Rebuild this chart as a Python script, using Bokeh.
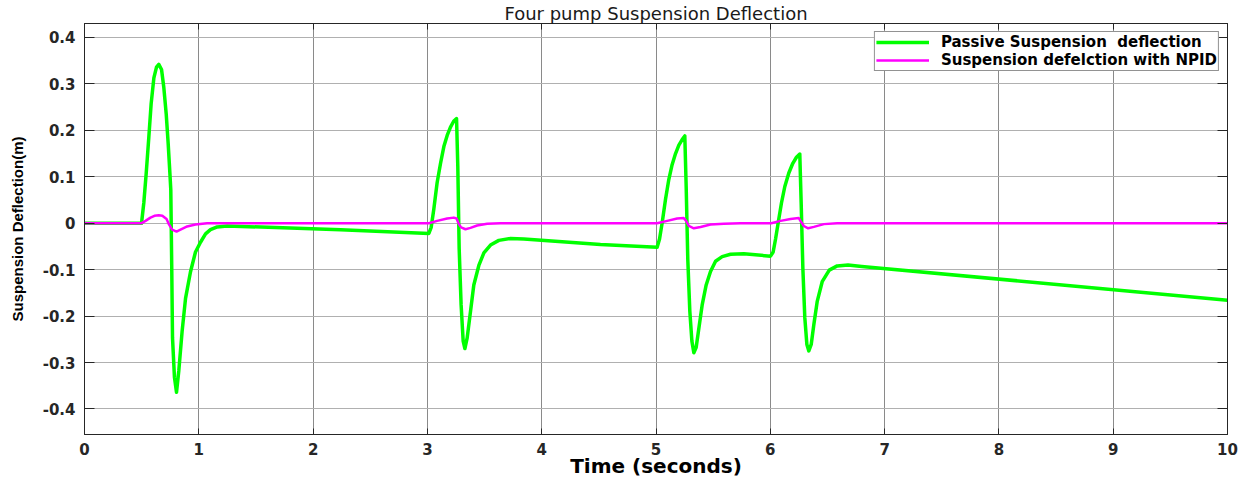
from bokeh.plotting import figure
from bokeh.models import Range1d, LinearAxis, FixedTicker, Legend, LegendItem
from bokeh.embed import file_html
from bokeh.resources import INLINE

# ---- data ----
passive_t = [0.0, 0.499, 0.519, 0.540, 0.563, 0.583, 0.607, 0.630, 0.650, 0.674, 0.694,
             0.715, 0.732, 0.747, 0.755, 0.763, 0.770, 0.787, 0.805, 0.825, 0.854, 0.884,
             0.927, 0.971, 1.015, 1.059, 1.102, 1.161, 1.248, 2.240,
             3.013, 3.033, 3.056, 3.085, 3.115, 3.144, 3.173, 3.202, 3.231, 3.255, 3.266,
             3.278, 3.295, 3.313, 3.328, 3.348, 3.377, 3.406, 3.450, 3.494, 3.552, 3.625,
             3.727, 3.844, 4.514,
             5.010, 5.031, 5.054, 5.083, 5.112, 5.141, 5.171, 5.200, 5.229, 5.252, 5.264,
             5.278, 5.296, 5.314, 5.331, 5.351, 5.375, 5.404, 5.439, 5.477, 5.521, 5.579,
             5.652, 5.768,
             6.002, 6.025, 6.046, 6.069, 6.098, 6.127, 6.162, 6.197, 6.229, 6.258, 6.270,
             6.285, 6.302, 6.320, 6.337, 6.358, 6.381, 6.410, 6.454, 6.516, 6.585, 6.680,
             6.800, 10.0]
passive_y = [0.0, 0.0, 0.044, 0.108, 0.186, 0.257, 0.313, 0.336, 0.342, 0.331, 0.292,
             0.235, 0.172, 0.108, 0.072, -0.090, -0.247, -0.332, -0.364, -0.318, -0.233, -0.162,
             -0.105, -0.062, -0.041, -0.023, -0.014, -0.008, -0.006, -0.014,
             -0.022, -0.009, 0.030, 0.087, 0.129, 0.165, 0.189, 0.207, 0.220, 0.225, 0.122,
             -0.055, -0.176, -0.254, -0.270, -0.247, -0.190, -0.133, -0.091, -0.064, -0.047, -0.037,
             -0.033, -0.034, -0.046,
             -0.052, -0.034, 0.001, 0.051, 0.094, 0.126, 0.150, 0.168, 0.180, 0.188, 0.079,
             -0.077, -0.190, -0.254, -0.279, -0.268, -0.226, -0.176, -0.133, -0.104, -0.082, -0.072,
             -0.067, -0.066,
             -0.071, -0.062, -0.034, 0.001, 0.044, 0.079, 0.108, 0.129, 0.142, 0.149, 0.044,
             -0.098, -0.204, -0.261, -0.275, -0.261, -0.218, -0.169, -0.126, -0.101, -0.092, -0.090,
             -0.093, -0.166]

npid_t = [0.0, 0.499, 0.534, 0.577, 0.612, 0.650, 0.681, 0.718, 0.738, 0.767, 0.805,
          0.840, 0.898, 0.971, 1.073,
          3.013, 3.085, 3.173, 3.231, 3.255, 3.275, 3.295, 3.333, 3.377, 3.435, 3.523, 3.640,
          5.010, 5.098, 5.185, 5.243, 5.264, 5.287, 5.331, 5.390, 5.477, 5.594, 5.740,
          6.008, 6.090, 6.177, 6.249, 6.264, 6.293, 6.331, 6.381, 6.469, 6.585, 10.0]
npid_y = [0.0, 0.0, 0.005, 0.012, 0.016, 0.017, 0.016, 0.009, -0.002, -0.014, -0.018,
          -0.014, -0.007, -0.003, 0.0,
          0.0, 0.005, 0.010, 0.012, 0.010, -0.002, -0.009, -0.013, -0.010, -0.005, -0.001, 0.0,
          0.0, 0.005, 0.010, 0.011, 0.005, -0.006, -0.011, -0.008, -0.003, -0.001, 0.0,
          0.0, 0.005, 0.009, 0.011, 0.005, -0.006, -0.011, -0.008, -0.002, 0.0, 0.0]

x_ticks = [0, 1, 2, 3, 4, 5, 6, 7, 8, 9, 10]
y_ticks = [-0.4, -0.3, -0.2, -0.1, 0, 0.1, 0.2, 0.3, 0.4]
y_tick_labels = ["-0.4", "-0.3", "-0.2", "-0.1", "0", "0.1", "0.2", "0.3", "0.4"]

title_text = "Four pump Suspension Deflection"
x_label = "Time (seconds)"
y_label = "Suspension Deflection(m)"
series_names = ["Passive Suspension  deflection", "Suspension defelction with NPID"]

AX = "#262626"
FONT = "DejaVu Sans"

p = figure(width=1241, height=480, output_backend="svg", toolbar_location=None,
           x_range=Range1d(0, 10), y_range=Range1d(-0.455, 0.43),
           min_border_left=84, min_border_right=14, min_border_top=22, min_border_bottom=43,
           background_fill_color="white", border_fill_color="white")

p.title.text = title_text
p.title.align = "center"
p.title.text_font = FONT
p.title.text_font_style = "normal"
p.title.text_font_size = "18px"
p.title.text_color = "#1a1a1a"
p.title.standoff = 0
p.title.offset = 0

p.outline_line_color = AX
p.outline_line_width = 1

# grid
p.xgrid.ticker = FixedTicker(ticks=x_ticks)
p.ygrid.ticker = FixedTicker(ticks=y_ticks)
p.xgrid.grid_line_color = "#8a8a8a"
p.ygrid.grid_line_color = "#b0b0b0"
p.xgrid.grid_line_width = 1
p.ygrid.grid_line_width = 1

# axes
xa = p.xaxis[0]
xa.ticker = FixedTicker(ticks=x_ticks)
xa.axis_label = x_label
ya = p.yaxis[0]
ya.ticker = FixedTicker(ticks=y_ticks)
ya.major_label_overrides = {t: l for t, l in zip(y_ticks, y_tick_labels)}
ya.axis_label = y_label

for ax in (xa, ya):
    ax.axis_line_color = AX
    ax.major_tick_line_color = AX
    ax.major_tick_out = 0
    ax.minor_tick_line_color = None
    ax.major_label_text_font = FONT
    ax.major_label_text_font_style = "bold"
    ax.major_label_text_font_size = "15px"
    ax.major_label_text_color = AX
    ax.axis_label_text_font_style = "bold"
    ax.axis_label_text_color = "black"

xa.major_tick_in = 6
xa.major_label_standoff = 8
xa.axis_label_text_font = FONT
xa.axis_label_text_font_size = "20px"
xa.axis_label_standoff = -4

ya.major_tick_in = 10
ya.major_label_standoff = 9
ya.axis_label_text_font = "Liberation Sans"
ya.axis_label_text_font_size = "15px"
ya.axis_label_standoff = 14

# box ticks on top and right (no labels)
top = LinearAxis(ticker=FixedTicker(ticks=x_ticks), major_label_text_color=None,
                 major_label_text_font_size="1px",
                 major_tick_in=6, major_tick_out=0, minor_tick_line_color=None,
                 axis_line_color=AX, major_tick_line_color=AX, major_label_standoff=0)
right = LinearAxis(ticker=FixedTicker(ticks=y_ticks), major_label_text_color=None,
                   major_label_text_font_size="1px",
                   major_tick_in=10, major_tick_out=0, minor_tick_line_color=None,
                   axis_line_color=AX, major_tick_line_color=AX, major_label_standoff=0)
p.add_layout(top, "above")
p.add_layout(right, "right")

r1 = p.line(passive_t, passive_y, line_color="#00ff00", line_width=3.5, line_join="round")
r2 = p.line(npid_t, npid_y, line_color="#ff00ff", line_width=2.5, line_join="round")

legend = Legend(items=[LegendItem(label=series_names[0], renderers=[r1]),
                       LegendItem(label=series_names[1], renderers=[r2])],
                location="top_right")
legend.margin = 8
legend.padding = 1
legend.spacing = 0
legend.glyph_width = 53
legend.glyph_height = 12
legend.label_height = 12
legend.label_standoff = 12
legend.label_text_font = FONT
legend.label_text_font_style = "bold"
legend.label_text_font_size = "15px"
legend.label_text_color = "black"
legend.border_line_color = AX
legend.border_line_width = 1
legend.background_fill_color = "white"
legend.background_fill_alpha = 1.0
p.add_layout(legend)

open("out.html", "w").write(file_html(p, INLINE))
